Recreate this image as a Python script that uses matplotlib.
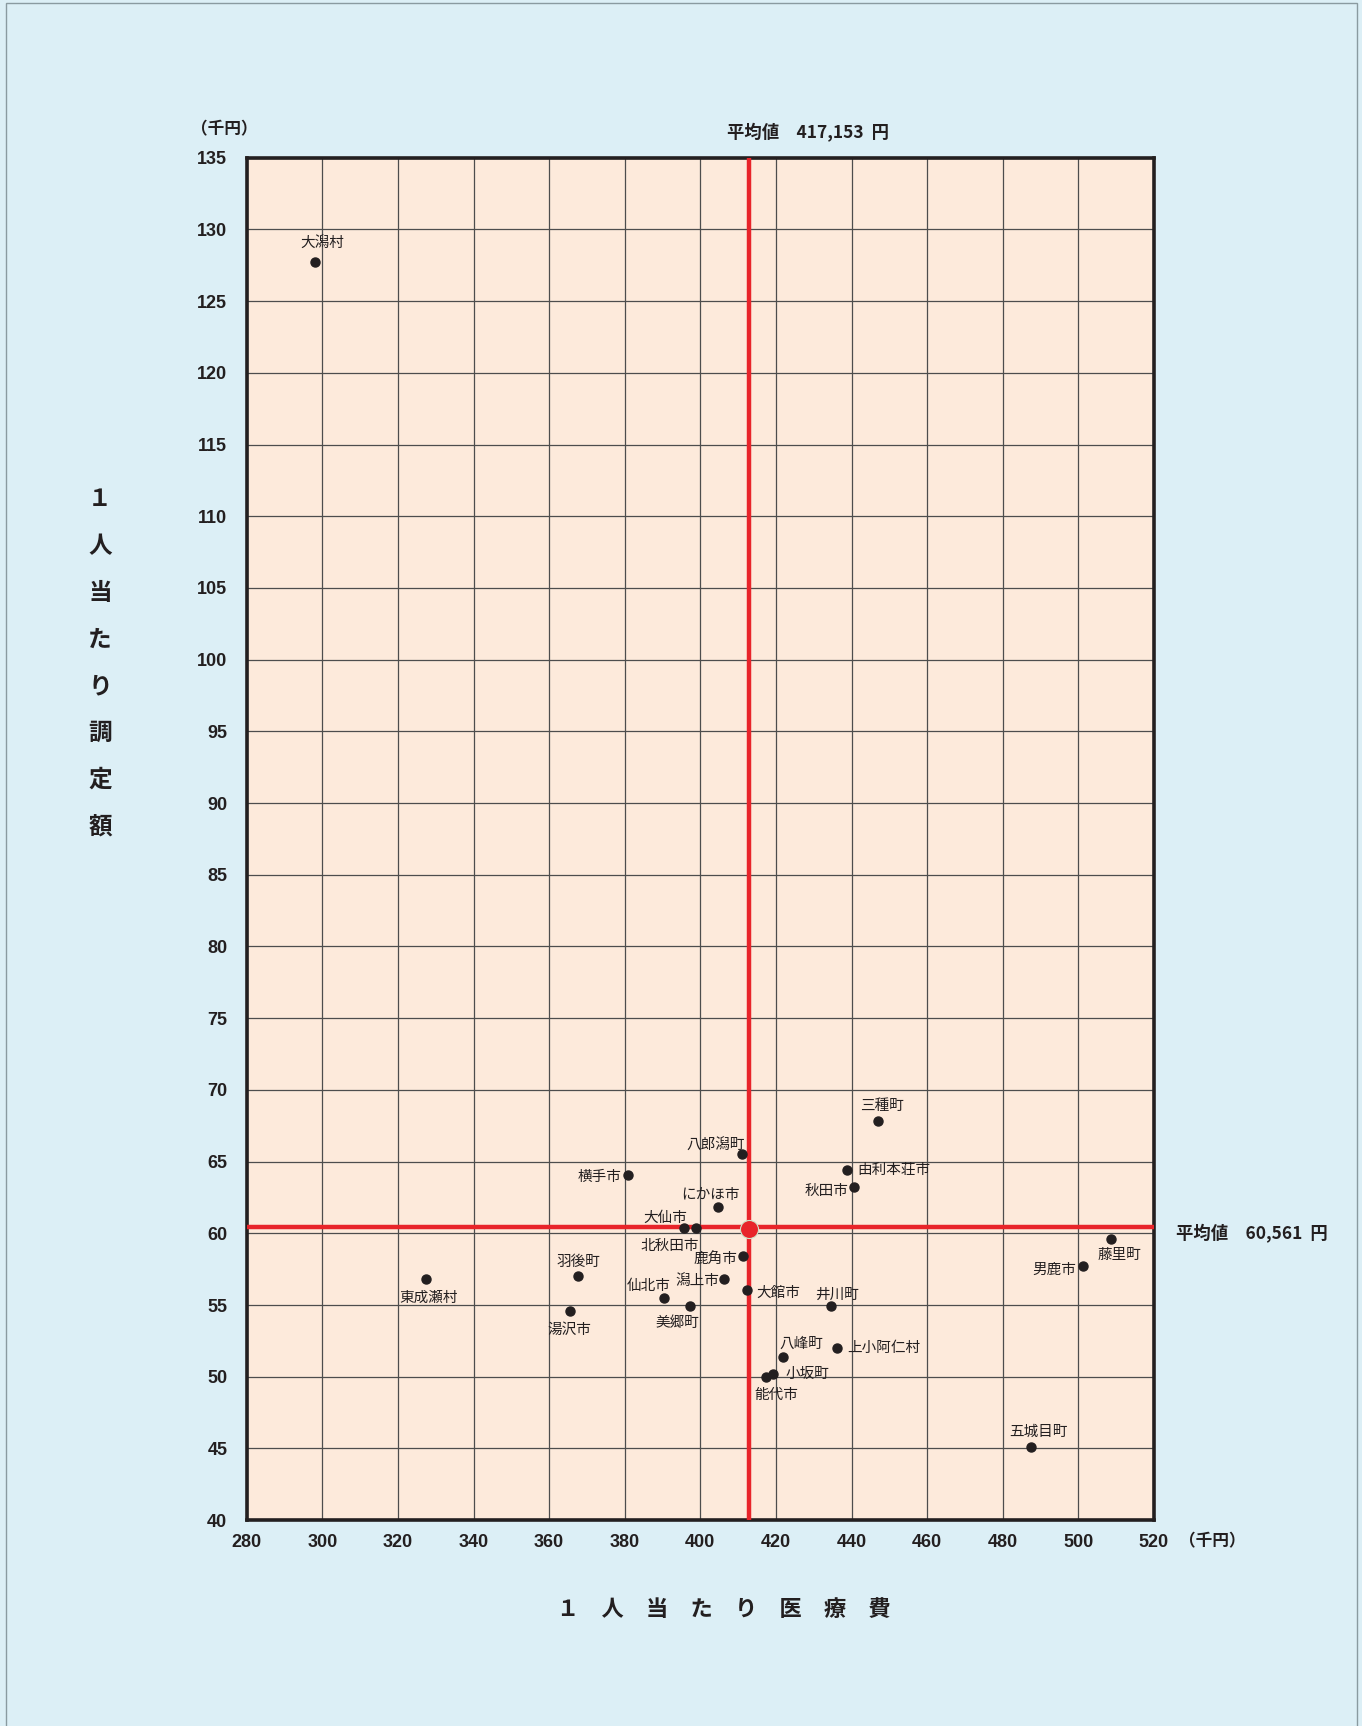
import matplotlib
matplotlib.use("Agg")
import matplotlib.pyplot as plt
from matplotlib.patches import Rectangle

# ---------------- data ----------------
names = ["大潟村", "東成瀬村", "湯沢市", "羽後町", "横手市", "仙北市", "美郷町",
         "大仙市", "北秋田市", "にかほ市", "潟上市", "八郎潟町", "鹿角市", "大館市",
         "能代市", "小坂町", "八峰町", "井川町", "上小阿仁村", "由利本荘市", "秋田市",
         "三種町", "五城目町", "男鹿市", "藤里町"]
x_vals = [298.1, 327.4, 365.4, 367.7, 381.0, 390.5, 397.3,
          395.7, 398.8, 404.8, 406.3, 411.1, 411.2, 412.3,
          417.3, 419.3, 422.0, 434.6, 436.2, 438.7, 440.7,
          447.1, 487.5, 501.3, 508.6]
y_vals = [127.7, 56.8, 54.6, 57.0, 64.1, 55.5, 54.9,
          60.4, 60.35, 61.8, 56.8, 65.5, 58.4, 56.05,
          50.0, 50.2, 51.4, 54.9, 52.0, 64.4, 63.2,
          67.8, 45.1, 57.7, 59.6]
mean_x = 412.9
mean_y = 60.45
mean_x_label = "平均値　417,153  円"
mean_y_label = "平均値　60,561  円"
x_ticks = list(range(280, 521, 20))
y_ticks = list(range(40, 136, 5))
x_title = "１人当たり医療費"
y_title = "１人当たり調定額"
unit = "（千円）"

# label placement: (dx px, dy px, ha)
placement = {
    "大潟村": (7, 19, "center"), "東成瀬村": (3, -19, "center"), "湯沢市": (0, -19, "center"),
    "羽後町": (0, 14, "center"), "横手市": (-7, -2, "right"), "仙北市": (6, 12, "right"),
    "美郷町": (-13, -17, "center"), "大仙市": (3, 10, "right"), "北秋田市": (3, -18, "right"),
    "にかほ市": (-8, 12, "center"), "潟上市": (-5, -2, "right"), "八郎潟町": (3, 9, "right"),
    "鹿角市": (-5, -3, "right"), "大館市": (10, -3, "left"), "能代市": (11, -18, "center"),
    "小坂町": (12, 0, "left"), "八峰町": (18, 13, "center"), "井川町": (6, 12, "center"),
    "上小阿仁村": (10, 0, "left"), "由利本荘市": (11, 0, "left"), "秋田市": (-6, -4, "right"),
    "三種町": (4, 15, "center"), "五城目町": (7, 15, "center"), "男鹿市": (-7, -4, "right"),
    "藤里町": (9, -16, "center"),
}

JP = ["Noto Sans CJK JP", "DejaVu Sans"]
NUM = ["Liberation Sans Narrow", "Liberation Sans", "DejaVu Sans"]
plt.rcParams["font.family"] = JP

W, H = 1362, 1726
fig = plt.figure(figsize=(W / 100, H / 100), dpi=100)
fig.patch.set_facecolor("#DCEFF6")
fig.patches.append(Rectangle((5.5 / W, -0.01), (1357 - 5.5) / W, 1.0 - 3 / H + 0.01,
                             transform=fig.transFigure, fill=False,
                             edgecolor="#8a9aa0", linewidth=1.0))

left, right, top, bottom = 246.7, 1153.9, 157.8, 1520.1
ax = fig.add_axes([left / W, 1 - bottom / H, (right - left) / W, (bottom - top) / H])
ax.set_facecolor("#FDEADB")
ax.set_xlim(280, 520)
ax.set_ylim(40, 135)
ax.set_xticks(x_ticks)
ax.set_yticks(y_ticks)
ax.set_xticklabels([str(t) for t in x_ticks])
ax.set_yticklabels([str(t) for t in y_ticks])
ax.tick_params(length=0, colors="#231F20")
ax.tick_params(axis="y", pad=14)
ax.tick_params(axis="x", pad=10)
for lab in ax.get_xticklabels() + ax.get_yticklabels():
    lab.set_family(NUM)
    lab.set_fontweight("bold")
    lab.set_fontsize(13)
ax.grid(True, color="#4d4d4d", linewidth=0.9)
ax.set_axisbelow(True)
for s in ax.spines.values():
    s.set_linewidth(2.6)
    s.set_color("#231F20")

# mean lines
ax.axvline(mean_x, color="#E8242A", linewidth=3.2, zorder=3)
ax.axhline(mean_y, color="#E8242A", linewidth=3.2, zorder=3)
ax.plot([mean_x], [mean_y - 0.15], "o", color="#E8242A", markersize=13,
        markeredgecolor="#cfe3c8", markeredgewidth=0.8, zorder=5)

# points
ax.plot(x_vals, y_vals, "o", color="#231F20", markersize=6.5, linestyle="none", zorder=6)
for n, xv, yv in zip(names, x_vals, y_vals):
    dx, dy, ha = placement[n]
    ax.annotate(n, (xv, yv), xytext=(dx, dy), textcoords="offset pixels",
                ha=ha, va="center", fontsize=10.5, color="#231F20", zorder=7)

# texts
fig.text(808 / W, 1 - 133 / H, mean_x_label, ha="center", va="center",
         fontsize=12.5, fontweight="bold", color="#231F20")
fig.text(1252 / W, 1 - 1234 / H, mean_y_label, ha="center", va="center",
         fontsize=12.5, fontweight="bold", color="#231F20")
fig.text(224 / W, 1 - 129 / H, unit, ha="center", va="center",
         fontsize=12, fontweight="bold", color="#231F20")
fig.text(1212 / W, 1 - 1541 / H, unit, ha="center", va="center",
         fontsize=12, fontweight="bold", color="#231F20")
fig.text(724 / W, 1 - 1609 / H, "　".join(x_title), ha="center", va="center",
         fontsize=16, fontweight="bold", color="#231F20")
fig.text(100 / W, 1 - 663 / H, "\n".join(y_title), ha="center", va="center",
         fontsize=17, fontweight="bold", color="#231F20", linespacing=2.2)

fig.savefig("out.png", dpi=100, facecolor=fig.get_facecolor())
